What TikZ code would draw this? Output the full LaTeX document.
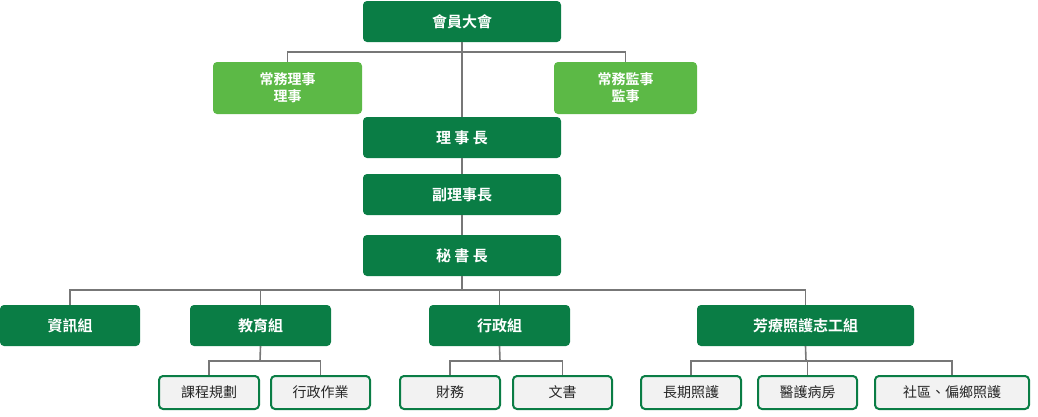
\documentclass[tikz,border=0pt]{standalone}
\usepackage{fontspec}
\newfontfamily\cjk{Noto Sans CJK TC}[BoldFont={* Bold}]
\definecolor{dg}{HTML}{0A7D45}
\definecolor{lg}{HTML}{5CB946}
\definecolor{ln}{HTML}{777777}
\definecolor{bg}{HTML}{F2F2F2}
\begin{document}
\begin{tikzpicture}[x=1pt,y=-1pt,
  box/.style={draw=none,fill=dg,rounded corners=4pt,text=white,font=\cjk\bfseries\fontsize{15}{18}\selectfont,align=center,inner sep=0pt},
  lbox/.style={box,fill=lg,font=\cjk\bfseries\fontsize{14}{17}\selectfont},
  wbox/.style={draw=dg,line width=2pt,fill=bg,rounded corners=4pt,text=black!85,font=\cjk\fontsize{14}{17}\selectfont,inner sep=0pt},
  con/.style={draw=ln,line width=1.6pt}]
\useasboundingbox (0,0) rectangle (1038,416);
\newcommand{\bx}[6]{\node[#1,minimum width=#4-#3,minimum height=#6-#5] (#2) at ({(#3+#4)/2},{(#5+#6)/2})}
\bx{box}{a}{363}{561}{1}{42}{會員大會};
\bx{lbox}{b}{213}{362}{62}{114}{常務理事\\理事};
\bx{lbox}{c}{554}{697}{62}{114}{常務監事\\監事};
\bx{box}{d}{363}{561}{117}{158}{理 事 長};
\bx{box}{e}{363}{561}{174}{215}{副理事長};
\bx{box}{f}{363}{561}{235}{276}{秘 書 長};
\bx{box}{g1}{0}{140}{305}{346}{資訊組};
\bx{box}{g2}{190}{331}{305}{346}{教育組};
\bx{box}{g3}{429}{570}{305}{346}{行政組};
\bx{box}{g4}{697}{914}{305}{346}{芳療照護志工組};
\bx{wbox}{h1}{159}{259}{376}{409}{課程規劃};
\bx{wbox}{h2}{271}{370}{376}{409}{行政作業};
\bx{wbox}{h3}{400}{500}{376}{409}{財務};
\bx{wbox}{h4}{513}{612}{376}{409}{文書};
\bx{wbox}{h5}{641}{741}{376}{409}{長期照護};
\bx{wbox}{h6}{758}{857}{376}{409}{醫護病房};
\bx{wbox}{h7}{875}{1029}{376}{409}{社區、偏鄉照護};
\begin{scope}[on background layer/.style={}]
\coordinate (j1) at (462,52);
\draw[con] (a.south) -- (d.north);
\draw[con] (b.north) |- (j1) -| (c.north);
\draw[con] (d.south) -- (e.north);
\draw[con] (e.south) -- (f.north);
\coordinate (j2) at (462,290);
\draw[con] (f.south) -- (j2);
\draw[con] (g1.north) |- (j2) -| (g4.north);
\draw[con] (g2.north) -- (g2.north|-j2);
\draw[con] (g3.north) -- (g3.north|-j2);
\coordinate (k2) at (260,361);
\draw[con] (g2.south) -- (k2);
\draw[con] (h1.north) |- (k2) -| (h2.north);
\coordinate (k3) at (500,361);
\draw[con] (g3.south) -- (k3);
\draw[con] (h3.north) |- (k3) -| (h4.north);
\coordinate (k4) at (806,361);
\draw[con] (g4.south) -- (k4);
\draw[con] (h5.north) |- (k4) -| (h7.north);
\draw[con] (h6.north) -- (h6.north|-k4);
\end{scope}
\end{tikzpicture}
\end{document}
